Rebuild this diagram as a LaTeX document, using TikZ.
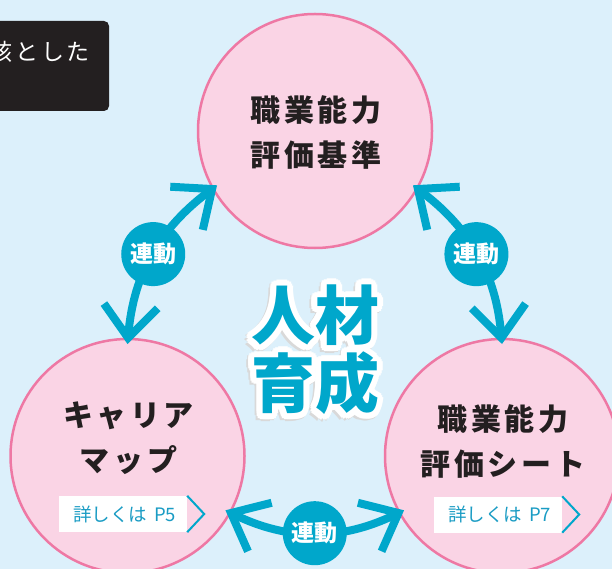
\documentclass[tikz,border=0pt]{standalone}
\usepackage{fontspec}
\usepackage[dvipsnames]{xcolor}
\usetikzlibrary{arrows.meta,calc}
\newfontfamily\jp{Noto Sans CJK JP}
\newfontfamily\jpwide{Noto Sans CJK JP}[LetterSpace=12]
\definecolor{skyback}{HTML}{DCF0FB}
\definecolor{pinkfill}{HTML}{FAD4E5}
\definecolor{pinkline}{HTML}{EE78A4}
\definecolor{linkblue}{HTML}{00A7CB}
\definecolor{tagblue}{HTML}{1A9CC4}
\definecolor{inkdark}{HTML}{231F20}
\tikzset{
    bubble/.style={circle,draw=pinkline,fill=pinkfill,line width=2.5pt,minimum size=234pt,inner sep=0pt,outer sep=-5pt},
    bubbletext/.style={align=center,text=inkdark,inner sep=0pt,font=\jpwide\bfseries\fontsize{30}{45}\selectfont},
    notetext/.style={text=white,inner sep=0pt,font=\jpwide\fontsize{23}{23}\selectfont},
    pagetag/.style={fill=white,text=tagblue,minimum width=128pt,minimum height=36pt,inner sep=0pt,font=\jp\fontsize{18.5}{18.5}\selectfont},
    tagline/.style={draw=linkblue,line width=2pt},
    link/.style={draw=linkblue,line width=8pt,>={Straight Barb[length=32pt,width=54pt,sharp]},<->},
    badge/.style={circle,fill=linkblue,minimum size=64pt,inner sep=0pt,text=white,font=\jp\bfseries\fontsize{23}{23}\selectfont},
    bigword/.style={align=center,inner sep=0pt,font=\jp\bfseries\fontsize{64}{68}\selectfont}
}
\begin{document}
\begin{tikzpicture}[x=1pt,y=-1pt]
    \fill[skyback] (0,0) rectangle (612,569);
    \clip (0,0) rectangle (612,569);
    \fill[inkdark,rounded corners=5pt] (-20,21) rectangle (109,111);
    \node[notetext,anchor=east] (note) at (90,52) {核とした};
    \node[bubble] (top) at (315,131) {};
    \node[bubble] (lmap) at (127.5,456) {};
    \node[bubble] (rsheet) at (502,456) {};
    \node[bubbletext] (toptext) at (316,132.5) {職業能力\\評価基準};
    \node[bubbletext] (lmaptext) at (128.5,438.5) {キャリア\\マップ};
    \node[bubbletext] (rsheettext) at (503,441.5) {職業能力\\評価シート};
    \node[pagetag] (tag5) at (123,514) {\hspace{3pt}詳しくは\hspace{7pt}P5};
    \draw[tagline] (tag5.north east) -- ([xshift=17pt]tag5.east) -- (tag5.south east);
    \node[pagetag] (tag7) at (498,514.5) {\hspace{3pt}詳しくは\hspace{7pt}P7};
    \draw[tagline] (tag7.north east) -- ([xshift=17pt]tag7.east) -- (tag7.south east);
    \draw[link] (lmap.90) to[out=85,in=217] node[badge] (sync1) {連動} (top.209);
    \draw[link] (rsheet.90) to[out=95,in=-37] node[badge] (sync2) {連動} (top.331);
    \draw[link] (lmap.331) to[out=-26,in=206] node[badge] (sync3) {連動} (rsheet.209);
    \foreach \a in {0,45,...,315}
        \node[bigword,text=black!15] (shade\a) at ($(313,352)+(\a:6pt)$) {人材\\育成};
    \foreach \a in {0,22.5,...,337.5}
        \node[bigword,text=white] (halo\a) at ($(315,350)+(\a:6pt)$) {人材\\育成};
    \node[bigword,text=linkblue] (jinzai) at (315,350) {人材\\育成};
\end{tikzpicture}
\end{document}
